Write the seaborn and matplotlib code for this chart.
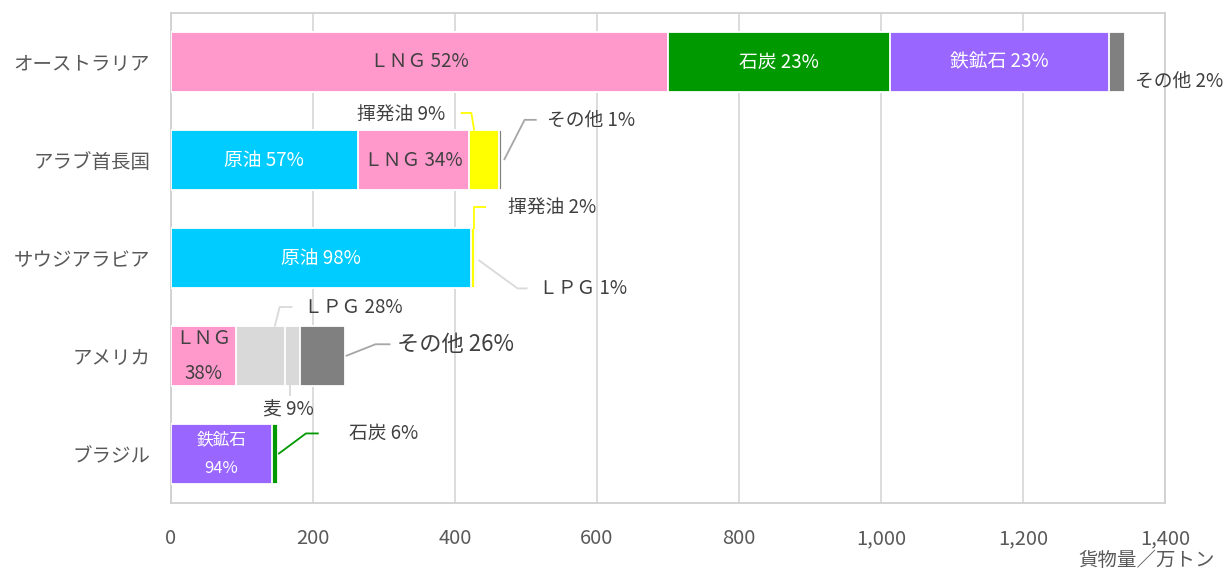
import matplotlib
matplotlib.use("Agg")
import matplotlib.pyplot as plt
import seaborn as sns
import pandas as pd

# ---- data ----
countries = ["オーストラリア", "アラブ首長国", "サウジアラビア", "アメリカ", "ブラジル"]

aus_items = ["ＬＮＧ", "石炭", "鉄鉱石", "その他"]
aus_values = [700, 313, 308, 23]
aus_pct = [52, 23, 23, 2]

uae_items = ["原油", "ＬＮＧ", "揮発油", "その他"]
uae_values = [263, 157, 42, 4]
uae_pct = [57, 34, 9, 1]

sau_items = ["原油", "揮発油", "ＬＰＧ"]
sau_values = [422, 6, 3]
sau_pct = [98, 2, 1]

usa_items = ["ＬＮＧ", "ＬＰＧ", "麦", "その他"]
usa_values = [92, 69, 20, 64]
usa_pct = [38, 28, 9, 26]

bra_items = ["鉄鉱石", "石炭"]
bra_values = [142, 8]
bra_pct = [94, 6]

x_ticks = [0, 200, 400, 600, 800, 1000, 1200, 1400]
x_label = "貨物量／万トン"

palette = {
    "ＬＮＧ": "#FF99CC", "石炭": "#009900", "鉄鉱石": "#9966FF", "その他": "#808080",
    "原油": "#00CCFF", "揮発油": "#FFFF00", "ＬＰＧ": "#D9D9D9", "麦": "#D9D9D9",
}

rows = []
for c, items, vals, pcts in zip(countries,
                                [aus_items, uae_items, sau_items, usa_items, bra_items],
                                [aus_values, uae_values, sau_values, usa_values, bra_values],
                                [aus_pct, uae_pct, sau_pct, usa_pct, bra_pct]):
    start = 0
    for k, (it, v, p) in enumerate(zip(items, vals, pcts)):
        rows.append(dict(country=c, item=it, value=v, pct=p, start=start, end=start + v, layer=k))
        start += v
df = pd.DataFrame(rows)

# ---- style ----
sns.set_theme(style="white")
plt.rcParams["font.family"] = ["Noto Sans CJK JP", "DejaVu Sans"]

fig = plt.figure(figsize=(12.27, 5.70), dpi=100)
ax = fig.add_axes([0.1394, 0.1175, 0.8101, 0.8597])

# draw stacked bars by overlaying cumulative bars (longest first)
for c in countries:
    sub = df[df.country == c].sort_values("layer", ascending=False)
    for _, r in sub.iterrows():
        sns.barplot(x=[r.end], y=[c], order=countries, orient="h", color=palette[r["item"]],
                    saturation=1, width=0.61, edgecolor="white", linewidth=1.3,
                    errorbar=None, ax=ax, zorder=3)

ax.set_xlim(0, 1400)
ax.set_ylim(4.5, -0.5)
ax.set_xticks(x_ticks)
ax.set_xticklabels([f"{t:,}" for t in x_ticks], fontsize=14.5, color="#595959")
ax.tick_params(axis="x", length=0, pad=18)
ax.tick_params(axis="y", length=0, pad=15, labelsize=14, labelcolor="#595959")
ax.set_xlabel("")
ax.set_ylabel("")
ax.xaxis.grid(True, color="#D9D9D9", lw=1.3)
ax.yaxis.grid(False)
ax.set_axisbelow(True)
for s in ax.spines.values():
    s.set_color("#D0D0D0")
    s.set_linewidth(1.3)


def seg(c, it):
    r = df[(df.country == c) & (df["item"] == it)].iloc[0]
    return r.start, r.end, countries.index(c), r.pct


DARK = "#404040"
FS = 13.5

# inner labels
for c, it, col, two in [(countries[0], "ＬＮＧ", DARK, False), (countries[0], "石炭", "white", False),
                        (countries[0], "鉄鉱石", "white", False), (countries[1], "原油", "white", False),
                        (countries[1], "ＬＮＧ", DARK, False), (countries[2], "原油", "white", False),
                        (countries[3], "ＬＮＧ", DARK, True), (countries[4], "鉄鉱石", "white", True)]:
    s, e, y, p = seg(c, it)
    txt = f"{it}\n{p}%" if two else f"{it} {p}%"
    fs = 12 if c == countries[4] else FS
    ax.text((s + e) / 2, y, txt, ha="center", va="center", color=col, fontsize=fs,
            linespacing=1.85, zorder=5)


def leader(pts, color):
    xs, ys = zip(*pts)
    ax.plot(xs, ys, color=color, lw=1.3, zorder=4, solid_capstyle="butt")


def outlabel(x, y, txt, ha="left", fs=FS):
    ax.text(x, y, txt, ha=ha, va="center", color=DARK, fontsize=fs, zorder=5)


# Australia other
s, e, y, p = seg(countries[0], "その他")
outlabel(e + 13, y + 0.2, f"その他 {p}%")

# UAE 揮発油
s, e, y, p = seg(countries[1], "揮発油")
leader([(s - 12, y - 0.48), (s + 3, y - 0.48), (s + 7, y - 0.3)], "#FFFF00")
outlabel(s - 34, y - 0.47, f"揮発油 {p}%", ha="right")

# UAE other
s, e, y, p = seg(countries[1], "その他")
leader([(e + 3, y), (e + 32, y - 0.41), (e + 49, y - 0.41)], "#A6A6A6")
outlabel(e + 63, y - 0.41, f"その他 {p}%")

# Saudi 揮発油
s, e, y, p = seg(countries[2], "揮発油")
leader([(s + 21, y - 0.52), (s + 4, y - 0.52), (s + 4, y - 0.3)], "#FFFF00")
outlabel(s + 52, y - 0.52, f"揮発油 {p}%")

# Saudi LPG
s, e, y, p = seg(countries[2], "ＬＰＧ")
leader([(e + 2, y + 0.02), (e + 57, y + 0.31), (e + 71, y + 0.31)], "#D9D9D9")
outlabel(e + 87, y + 0.31, f"ＬＰＧ {p}%")

# USA LPG
s, e, y, p = seg(countries[3], "ＬＰＧ")
leader([(s + 54, y - 0.3), (s + 61, y - 0.5), (s + 79, y - 0.5)], "#D9D9D9")
outlabel(s + 95, y - 0.5, f"ＬＰＧ {p}%")

# USA 麦
s, e, y, p = seg(countries[3], "麦")
leader([(s + 6, y + 0.3), (s + 6, y + 0.41)], "#D9D9D9")
outlabel(s + 4, y + 0.55, f"{'麦'} {p}%", ha="center")

# USA other
s, e, y, p = seg(countries[3], "その他")
leader([(e + 1, y), (e + 43, y - 0.12), (e + 64, y - 0.12)], "#A6A6A6")
outlabel(e + 73, y - 0.12, f"その他 {p}%", fs=16)

# Brazil coal
s, e, y, p = seg(countries[4], "石炭")
leader([(e + 1, y), (e + 40, y - 0.21), (e + 58, y - 0.21)], "#009900")
outlabel(e + 100, y - 0.21, f"石炭 {p}%")

fig.text(0.99, 0.016, x_label, ha="right", va="center", fontsize=14, color="#595959")

fig.savefig("out.png", dpi=100)
